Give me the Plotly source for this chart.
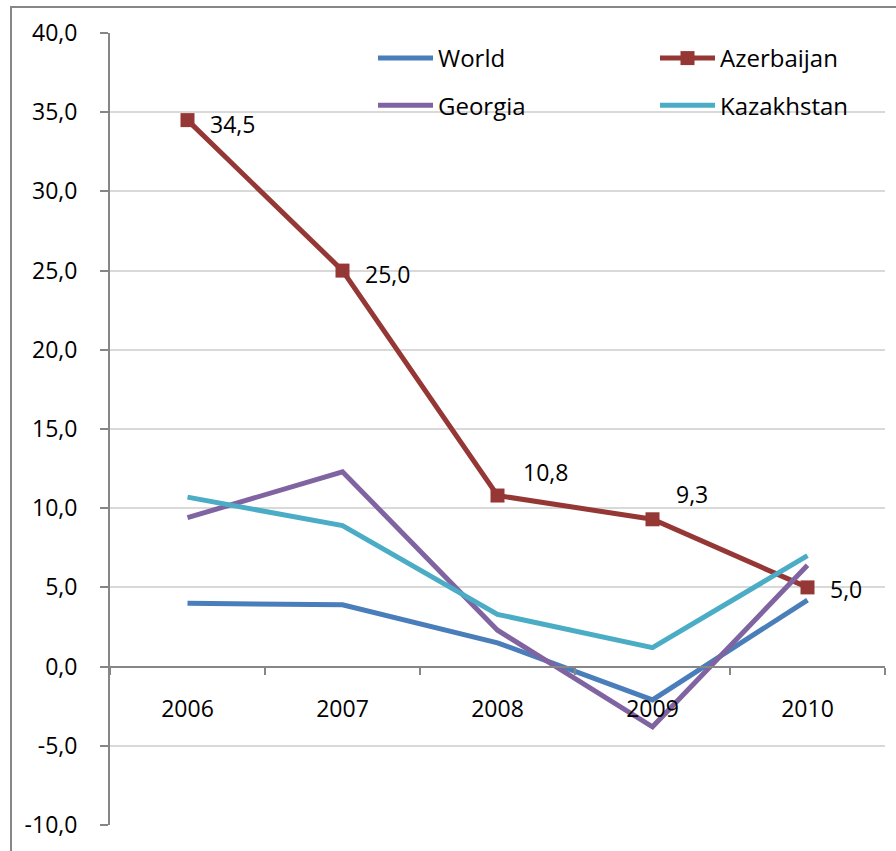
import plotly.graph_objects as go

years = ["2006", "2007", "2008", "2009", "2010"]
world = [4.0, 3.9, 1.5, -2.1, 4.2]
azerbaijan = [34.5, 25.0, 10.8, 9.3, 5.0]
georgia = [9.4, 12.3, 2.3, -3.8, 6.4]
kazakhstan = [10.7, 8.9, 3.3, 1.2, 7.0]
y_tick_values = [-10, -5, 0, 5, 10, 15, 20, 25, 30, 35, 40]

# label offsets (pixels) for the Azerbaijan data labels
az_label_dx = [20, 20, 23, 21, 20]
az_label_dy = [-4, -3, 24, 25, -2]

FONT = "Open Sans"
W, H = 896, 851
L, R, T, B = 110, 11, 33, 24
pw, ph = W - L - R, H - T - B

def fmt(v):
    return f"{v:.1f}".replace(".", ",")

fig = go.Figure()
fig.add_trace(go.Scatter(x=years, y=world, name="World", mode="lines",
                         line=dict(color="#4A7EBB", width=5),
                         legend="legend", legendgroup="w"))
fig.add_trace(go.Scatter(x=years, y=azerbaijan, name="Azerbaijan", mode="lines+markers",
                         line=dict(color="#953735", width=5),
                         marker=dict(symbol="square", size=14, color="#953735"),
                         legend="legend2", legendgroup="a"))
fig.add_trace(go.Scatter(x=years, y=georgia, name="Georgia", mode="lines",
                         line=dict(color="#8064A2", width=5),
                         legend="legend", legendgroup="g"))
fig.add_trace(go.Scatter(x=years, y=kazakhstan, name="Kazakhstan", mode="lines",
                         line=dict(color="#4BACC6", width=5),
                         legend="legend2", legendgroup="k"))

annotations = []
for i, (yv, dx, dy) in enumerate(zip(azerbaijan, az_label_dx, az_label_dy)):
    annotations.append(dict(x=i, y=yv, xref="x", yref="y", text=fmt(yv),
                            showarrow=False, xanchor="left", yanchor="middle",
                            xshift=dx, yshift=dy,
                            font=dict(family=FONT, size=23, color="#000000")))

legend_common = dict(font=dict(family=FONT, size=24, color="#000000"),
                     bgcolor="rgba(0,0,0,0)", itemwidth=55, tracegroupgap=13,
                     orientation="v", xanchor="left", yanchor="top")

fig.update_layout(
    width=W, height=H,
    margin=dict(l=L, r=R, t=T, b=B, pad=0),
    paper_bgcolor="white", plot_bgcolor="white",
    font=dict(family=FONT, size=23, color="#000000"),
    showlegend=True,
    legend=dict(x=(373 - L) / pw, y=(T + ph - 36) / ph, **legend_common),
    legend2=dict(x=(655 - L) / pw, y=(T + ph - 36) / ph, **legend_common),
    xaxis=dict(type="category", range=[-0.5, 4.5], anchor="free", position=10 / 50,
               showline=True, linecolor="#868686", linewidth=2,
               ticks="outside", tickson="boundaries", ticklen=7, tickcolor="#868686", tickwidth=1.5,
               showgrid=False, ticklabelstandoff=22,
               tickfont=dict(family=FONT, size=23, color="#000000")),
    yaxis=dict(range=[-10, 40], tickmode="array", tickvals=y_tick_values,
               ticktext=[fmt(v) for v in y_tick_values],
               showline=True, linecolor="#868686", linewidth=2,
               ticks="outside", ticklen=8, tickcolor="#868686", tickwidth=1.5,
               showgrid=True, gridcolor="#D9D9D9", gridwidth=1.5,
               zeroline=False, ticklabelstandoff=18,
               tickfont=dict(family=FONT, size=23, color="#000000")),
    annotations=annotations,
    shapes=[dict(type="rect", xref="paper", yref="paper",
                 x0=(11 - L) / pw, x1=1.2, y0=-0.2, y1=(T + ph - 7) / ph,
                 line=dict(color="#878787", width=2), fillcolor="rgba(0,0,0,0)", layer="below")],
)

fig.write_html("out.html")
